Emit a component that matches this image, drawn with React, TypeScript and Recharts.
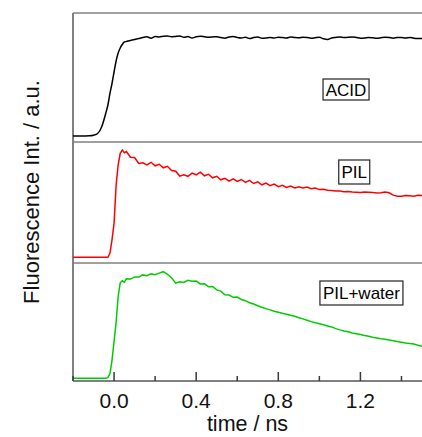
import { LineChart, Line, XAxis, YAxis, ReferenceLine, ReferenceDot } from 'recharts';

// time axis (ns), shared by the three decays
const times = [
  -0.2, -0.16, -0.12, -0.1, -0.08, -0.06, -0.04, -0.03, -0.02, -0.01,
  0, 0.01, 0.02, 0.03, 0.04, 0.05, 0.06, 0.08, 0.1, 0.12,
  0.14, 0.16, 0.18, 0.2, 0.22, 0.24, 0.26, 0.28, 0.3, 0.32,
  0.34, 0.36, 0.38, 0.4, 0.42, 0.44, 0.46, 0.48, 0.5, 0.52,
  0.54, 0.56, 0.58, 0.6, 0.62, 0.64, 0.66, 0.68, 0.7, 0.72,
  0.74, 0.76, 0.78, 0.8, 0.82, 0.84, 0.86, 0.88, 0.9, 0.92,
  0.94, 0.96, 0.98, 1.0, 1.02, 1.04, 1.06, 1.08, 1.1, 1.12,
  1.14, 1.16, 1.18, 1.2, 1.22, 1.24, 1.26, 1.28, 1.3, 1.32,
  1.34, 1.36, 1.38, 1.4, 1.42, 1.44, 1.46, 1.48, 1.5,
];

// fluorescence intensity (a.u.)
const acid = [
  0, 0, 2, 8, 25, 93, 230, 310, 427, 525,
  640, 750, 830, 880, 915, 940, 945, 955, 965, 975,
  985, 992, 978, 995, 990, 998, 1000, 992, 996, 1000,
  988, 994, 980, 992, 997, 993, 988, 990, 993, 985,
  978, 990, 995, 985, 980, 988, 975, 985, 990, 978,
  980, 985, 980, 988, 985, 980, 990, 985, 982, 988,
  985, 978, 983, 987, 972, 965, 980, 986, 990, 984,
  988, 990, 985, 978, 980, 986, 982, 977, 983, 988,
  985, 978, 985, 984, 980, 986, 978, 975, 975,
];

const pil = [
  0, 0, 0, 0, 0, 0, 0, 0, 40, 175,
  340, 720, 925, 1040, 1073, 1045, 1058, 1000, 998, 938,
  945, 925, 950, 915, 930, 895, 910, 868, 860, 812,
  825, 810, 842, 825, 852, 815, 830, 795, 810, 775,
  790, 762, 785, 758, 778, 750, 770, 738, 755, 725,
  742, 716, 733, 706, 720, 698, 712, 693, 706, 694,
  702, 686, 692, 677, 680, 670, 668, 662, 662, 655,
  658, 652, 650, 648, 654, 651, 647, 642, 645, 652,
  645, 622, 610, 611, 617, 615, 611, 620, 619,
];

const pilWater = [
  0, 0, 0, 0, 0, 0, 0, 10, 45, 180,
  370, 560, 820, 955, 975, 962, 995, 992, 1014, 1012,
  1034, 1026, 1044, 1036, 1052, 1066, 1040, 1005, 952, 966,
  958, 980, 970, 972, 944, 946, 916, 918, 884, 872,
  836, 832, 810, 812, 788, 776, 756, 743, 726, 710,
  697, 684, 670, 661, 650, 641, 630, 620, 606, 594,
  580, 567, 556, 546, 536, 523, 514, 497, 484, 473,
  466, 454, 446, 437, 427, 420, 410, 404, 396, 390,
  384, 376, 367, 360, 353, 347, 342, 331, 321,
];

const xTicks = [-0.2, 0, 0.2, 0.4, 0.6, 0.8, 1.0, 1.2, 1.4];
const labelledTicks = [0, 0.4, 0.8, 1.2];

const data = times.map((t, i) => ({ t, acid: acid[i], pil: pil[i], water: pilWater[i] }));

const FONT = '"Liberation Sans", Arial, Helvetica, sans-serif';
const AXIS = '#808080';
const TICK = '#3a3a3a';
const X_MIN = -0.2;
const X_DOMAIN = [X_MIN, 1.5];
const ACID_DOMAIN = [-60, 1230];
const PIL_DOMAIN = [-57, 1153];
const WATER_DOMAIN = [-27, 1153];
const W = 422;

const isMajor = (v: number) => labelledTicks.some((m) => Math.abs(m - v) < 1e-6);

function TopTick(props: any) {
  const { x, y, payload } = props;
  const len = isMajor(payload.value) ? 8 : 5;
  return <line x1={x} x2={x} y1={y} y2={y + len} stroke={TICK} strokeWidth={1.5} />;
}

function BottomTick(props: any) {
  const { x, y, payload } = props;
  const major = isMajor(payload.value);
  return (
    <g>
      <line x1={x} x2={x} y1={y} y2={y - (major ? 9 : 5)} stroke={TICK} strokeWidth={1.5} />
      {major && (
        <text x={x} y={y + 27} textAnchor="middle" fontSize={21} fontFamily={FONT} fill="#111">
          {payload.value.toFixed(1)}
        </text>
      )}
    </g>
  );
}

function boxLabel(text: string, w: number, h: number) {
  return (props: any) => {
    const { cx, cy } = props;
    return (
      <g>
        <rect x={cx - w / 2} y={cy - h / 2} width={w} height={h} fill="#fff" stroke="#222" strokeWidth={1.2} />
        <text x={cx} y={cy + 6} textAnchor="middle" fontSize={17} fontFamily={FONT} fill="#000">
          {text}
        </text>
      </g>
    );
  };
}

export default function App() {
  return (
    <div style={{ position: 'absolute', left: 0, top: 0, width: W, height: 437, background: '#fff' }}>
      {/* ACID */}
      <div style={{ position: 'absolute', left: 0, top: 0 }}>
        <LineChart width={W} height={150} data={data} margin={{ top: 13, right: 0, bottom: 8, left: 73 }}>
          <XAxis
            dataKey="t" type="number" domain={X_DOMAIN} allowDataOverflow orientation="top" height={0}
            ticks={xTicks} tickSize={0} tickMargin={0} tick={<TopTick />} axisLine={false}
          />
          <YAxis domain={ACID_DOMAIN} allowDataOverflow hide />
          <ReferenceLine y={ACID_DOMAIN[1]} stroke={AXIS} strokeWidth={1.5} />
          <ReferenceLine y={ACID_DOMAIN[0]} stroke={AXIS} strokeWidth={1.5} />
          <ReferenceLine x={X_MIN} stroke={AXIS} strokeWidth={2} />
          <Line dataKey="acid" type="monotone" stroke="#000" strokeWidth={1.5} dot={false} isAnimationActive={false} />
          <ReferenceDot x={1.13} y={465} r={1} shape={boxLabel('ACID', 46, 21)} />
        </LineChart>
      </div>
      {/* PIL */}
      <div style={{ position: 'absolute', left: 0, top: 132 }}>
        <LineChart width={W} height={141} data={data} margin={{ top: 10, right: 0, bottom: 10, left: 73 }}>
          <XAxis dataKey="t" type="number" domain={X_DOMAIN} allowDataOverflow hide />
          <YAxis domain={PIL_DOMAIN} allowDataOverflow hide />
          <ReferenceLine y={PIL_DOMAIN[0]} stroke={AXIS} strokeWidth={1.5} />
          <ReferenceLine x={X_MIN} stroke={AXIS} strokeWidth={2} />
          <Line dataKey="pil" type="linear" stroke="#ff0000" strokeWidth={1.5} dot={false} isAnimationActive={false} />
          <ReferenceDot x={1.17} y={853} r={1} shape={boxLabel('PIL', 31, 24)} />
        </LineChart>
      </div>
      {/* PIL + water */}
      <div style={{ position: 'absolute', left: 0, top: 253 }}>
        <LineChart width={W} height={184} data={data} margin={{ top: 10, right: 0, bottom: 0, left: 73 }}>
          <XAxis
            dataKey="t" type="number" domain={X_DOMAIN} allowDataOverflow height={56}
            ticks={xTicks} tickSize={0} tickMargin={0} tick={<BottomTick />} axisLine={false}
          />
          <YAxis domain={WATER_DOMAIN} allowDataOverflow hide />
          <ReferenceLine y={WATER_DOMAIN[0]} stroke={AXIS} strokeWidth={2} />
          <ReferenceLine x={X_MIN} stroke={AXIS} strokeWidth={2} />
          <Line dataKey="water" type="linear" stroke="#00cc00" strokeWidth={1.5} dot={false} isAnimationActive={false} />
          <ReferenceDot x={1.205} y={853} r={1} shape={boxLabel('PIL+water', 83, 24)} />
        </LineChart>
      </div>
      <svg width={W} height={437} style={{ position: 'absolute', left: 0, top: 0, pointerEvents: 'none' }}>
        <text x={247.5} y={431} textAnchor="middle" fontSize={21.5} fontFamily={FONT} fill="#111">
          time / ns
        </text>
        <text transform="translate(39,192) rotate(-90)" textAnchor="middle" fontSize={22} fontFamily={FONT} fill="#111">
          Fluorescence Int. / a.u.
        </text>
      </svg>
    </div>
  );
}
